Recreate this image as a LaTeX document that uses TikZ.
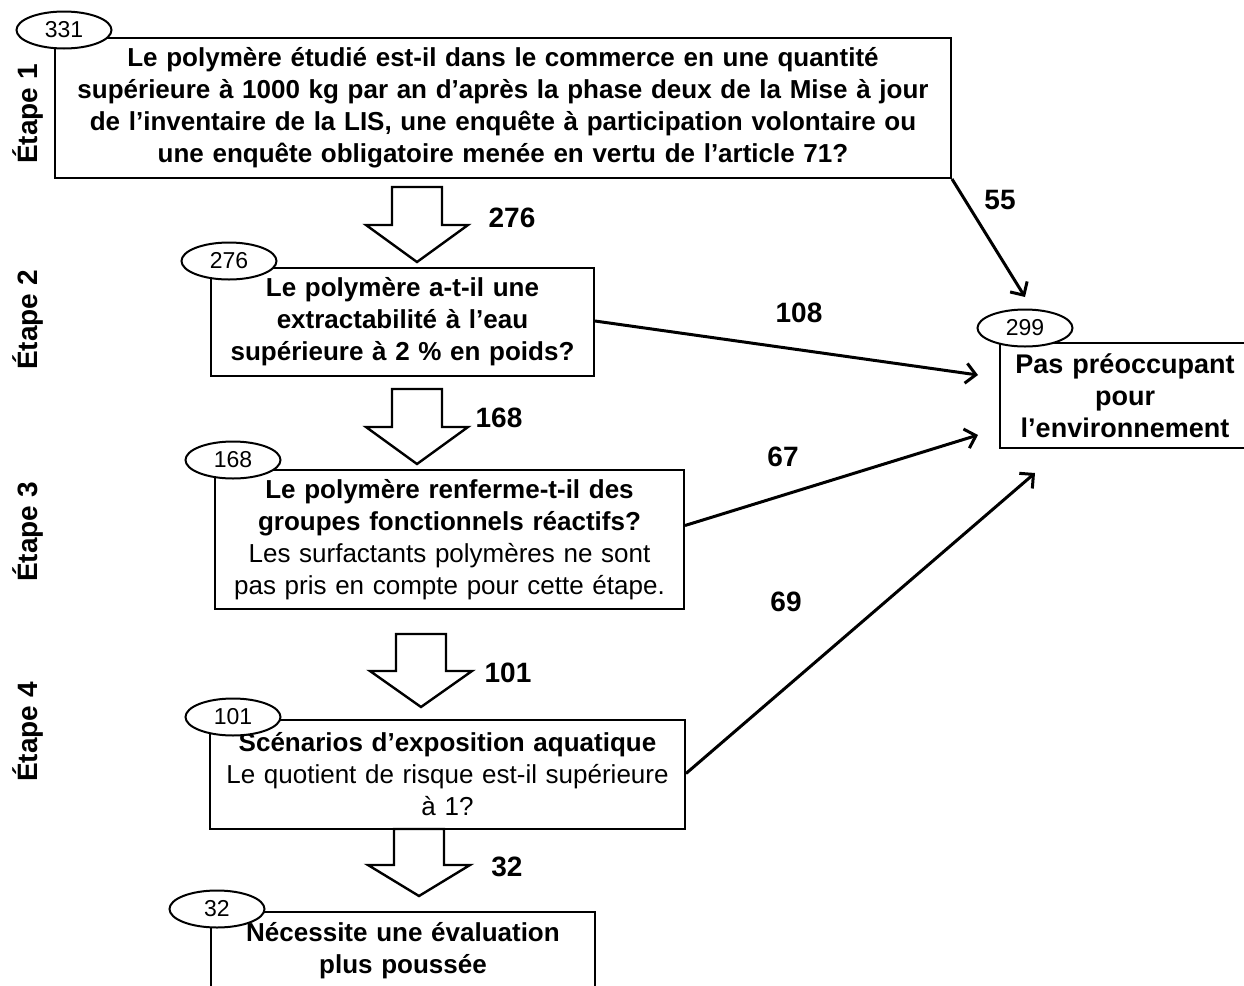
\documentclass[tikz,border=0pt]{standalone}
\usepackage{fontspec}
\setmainfont{Liberation Sans}
\usepackage{tikz}
\usetikzlibrary{arrows.meta, shapes.geometric}

\begin{document}
\begin{tikzpicture}[x=0.5pt, y=-0.5pt, line width=1pt,
	box/.style={draw, fill=white, inner sep=0pt, align=center, font=\bfseries\fontsize{13}{16}\selectfont},
	count/.style={draw, ellipse, fill=white, inner sep=0pt, minimum width=47.5pt, minimum height=18.5pt, font=\fontsize{11.5}{12}\selectfont},
	num/.style={font=\bfseries\fontsize{14}{16}\selectfont},
	etape/.style={rotate=90, font=\bfseries\fontsize{14}{16}\selectfont},
	hollow/.style={draw, fill=white, line width=1.2pt, line join=miter},
	flow/.style={-{Straight Barb[length=5pt, width=10pt]}, line width=1.5pt}]
	\clip (0,0) rectangle (1244,986);

	% question boxes
	\node[box, minimum width=448pt, minimum height=70pt, text width=448pt] (B1) at (503,108)
		{Le polymère étudié est-il dans le commerce en une quantité\\ supérieure à 1000 kg par an d’après la phase deux de la Mise à jour\\ de l’inventaire de la LIS, une enquête à participation volontaire ou\\ une enquête obligatoire menée en vertu de l’article 71?};
	\node[box, minimum width=191.5pt, minimum height=54pt, text width=191.5pt] (B2) at (402.5,322)
		{Le polymère a-t-il une\\ extractabilité à l’eau\\ supérieure à 2 \% en poids?};
	\node[box, minimum width=234.5pt, minimum height=69.5pt, text width=234.5pt] (B3) at (449.5,539.5)
		{Le polymère renferme-t-il des\\ groupes fonctionnels réactifs?\\ \mdseries Les surfactants polymères ne sont\\ \mdseries pas pris en compte pour cette étape.};
	\node[box, minimum width=237.5pt, minimum height=54.5pt, text width=237.5pt] (B4) at (447.5,774.5)
		{Scénarios d’exposition aquatique\\ \mdseries Le quotient de risque est-il supérieure\\ \mdseries à 1?};
	\node[box, minimum width=192pt, minimum height=39pt, text width=192pt] (B5) at (403,951)
		{Nécessite une évaluation\\ plus poussée};
	\node[box, font=\bfseries\fontsize{13.5}{16}\selectfont, minimum width=125pt, minimum height=52.5pt, text width=125pt] (B6) at (1125,395.5)
		{Pas préoccupant\\ pour\\ l’environnement};

	% counts
	\node[count] (c331) at (64,30) {331};
	\node[count] (c276) at (229,261) {276};
	\node[count] (c168) at (233,460) {168};
	\node[count] (c101) at (233,717) {101};
	\node[count] (c32) at (217,909) {32};
	\node[count] (c299) at (1025,328) {299};

	% steps
	\node[etape] (e1) at (28,114) {Étape 1};
	\node[etape] (e2) at (28,320) {Étape 2};
	\node[etape] (e3) at (28,532) {Étape 3};
	\node[etape] (e4) at (28,732) {Étape 4};

	% hollow arrows down
	\foreach \cx/\yt/\yw/\yb/\lx/\ly/\lab in {417/187/225/262/512/218/276, 417/389/427/464/499/418/168, 421/634/671/707/508/673/101, 419/829/865/896/507/867/32}{
		\draw[hollow] (\cx-25,\yt) -- (\cx+25,\yt) -- (\cx+25,\yw) -- (\cx+51,\yw) -- (\cx,\yb) -- (\cx-51,\yw) -- (\cx-25,\yw) -- cycle;
		\node[num] (d\lab) at (\lx,\ly) {\lab};
	}

	% arrows to the right
	\coordinate (t55) at (1025,297);
	\coordinate (t108) at (978,375);
	\coordinate (t67) at (978,435);
	\coordinate (t69) at (1035,473);

	\draw[flow] (B1.south east) -- (t55);
	\draw[flow] ([yshift=0.5pt]B2.east) -- (t108);
	\draw[flow] ([yshift=7pt]B3.east) -- (t67);
	\draw[flow] ([yshift=0.5pt]B4.east) -- (t69);

	\node[num] (r55) at (1000,200) {55};
	\node[num] (r108) at (799,313) {108};
	\node[num] (r67) at (783,457) {67};
	\node[num] (r69) at (786,602) {69};
\end{tikzpicture}
\end{document}
